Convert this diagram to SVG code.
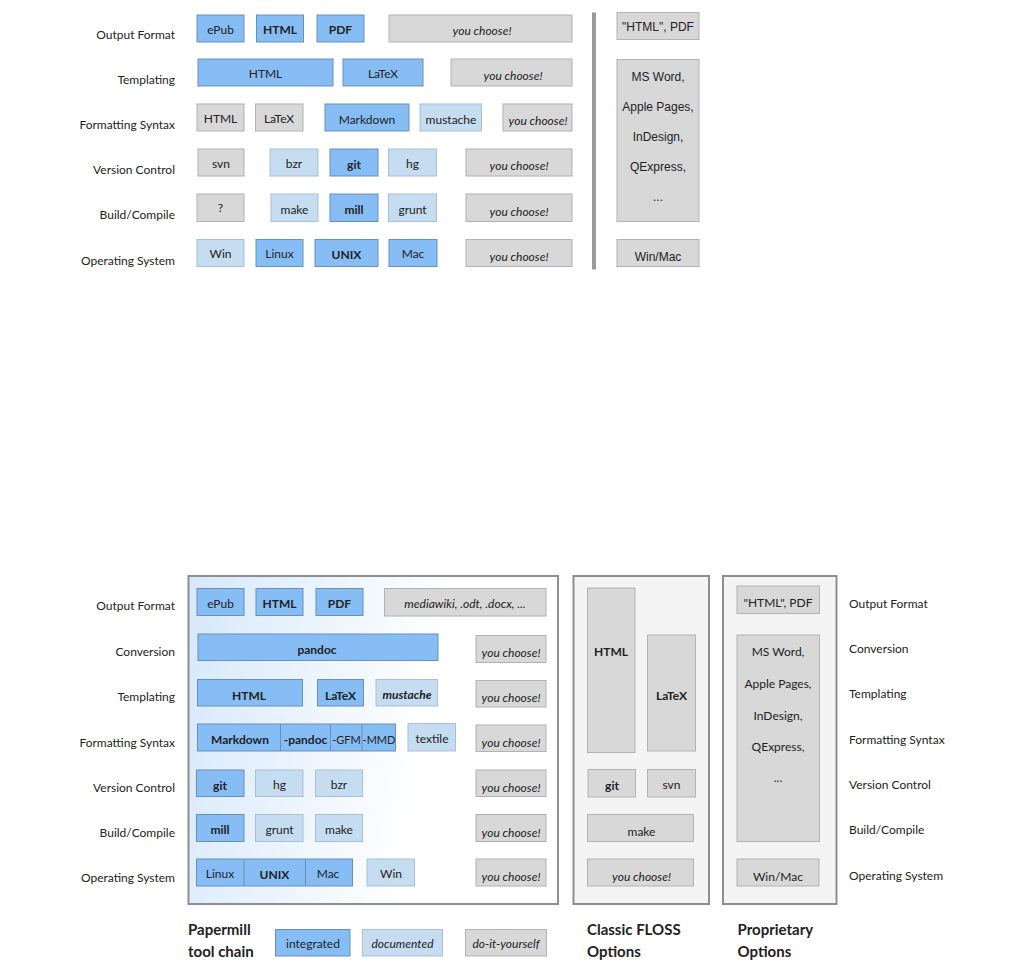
<svg xmlns="http://www.w3.org/2000/svg" width="1024" height="970" viewBox="0 0 1024 970">
<defs>
<linearGradient id="pmgrad" x1="0" y1="0" x2="1" y2="0.15">
<stop offset="0" stop-color="#d6e8fb"/>
<stop offset="0.7" stop-color="#ffffff"/>
<stop offset="1" stop-color="#ffffff"/>
</linearGradient>
<style>
text{font-family:Lato,"Source Sans Pro","Noto Sans",sans-serif;fill:#222;}
.b{fill:#86bdf5;stroke:#6b8fb8;stroke-width:1;}
.lb{fill:#c6dcf1;stroke:#a9bfd5;stroke-width:1;}
.g{fill:#d8d8d8;stroke:#b2b2b2;stroke-width:1;}
.t{font-size:12px;text-anchor:middle;}
.ts{font-size:11px;text-anchor:middle;}
.tb{font-size:12px;text-anchor:middle;font-weight:bold;}
.ti{font-size:12px;text-anchor:middle;font-style:italic;}
.tbi{font-size:12px;text-anchor:middle;font-style:italic;font-weight:bold;}
.lbl{font-size:12px;text-anchor:end;}
.lbr{font-size:12px;text-anchor:start;}
.hv{font-family:"Liberation Sans",Arial,sans-serif;font-size:12px;text-anchor:middle;}
.head{font-size:15px;font-weight:bold;}
.cont{stroke:#8e8e8e;stroke-width:2;}
.div{stroke:#6b8fb8;stroke-width:1;}
</style>
</defs>

<!-- ================= TOP DIAGRAM ================= -->
<g id="top-labels">
<text class="lbl" x="175" y="39">Output Format</text>
<text class="lbl" x="175" y="84">Templating</text>
<text class="lbl" x="175" y="129">Formatting Syntax</text>
<text class="lbl" x="175" y="174">Version Control</text>
<text class="lbl" x="175" y="219">Build/Compile</text>
<text class="lbl" x="175" y="265">Operating System</text>
</g>

<g id="top-output">
<rect class="b" x="197" y="15" width="47" height="27"/><text class="t" x="220.5" y="34">ePub</text>
<rect class="b" x="256.5" y="15" width="47" height="27"/><text class="tb" x="280" y="34">HTML</text>
<rect class="b" x="317" y="15" width="47" height="27"/><text class="tb" x="340.5" y="34">PDF</text>
<rect class="g" x="389" y="15" width="183" height="27"/><text class="ti" x="482" y="35">you choose!</text>
</g>

<g id="top-templating">
<rect class="b" x="198" y="59" width="135" height="27"/><text class="t" x="265.5" y="78">HTML</text>
<rect class="b" x="343" y="59" width="80" height="27"/><text class="t" x="383" y="78">LaTeX</text>
<rect class="g" x="451" y="59" width="121" height="27"/><text class="ti" x="513" y="80">you choose!</text>
</g>

<g id="top-syntax">
<rect class="g" x="197" y="104" width="47" height="27"/><text class="t" x="220.5" y="123">HTML</text>
<rect class="g" x="255.5" y="104" width="47.5" height="27"/><text class="t" x="279" y="123">LaTeX</text>
<rect class="b" x="325" y="104" width="84" height="27"/><text class="t" x="367" y="124">Markdown</text>
<rect class="lb" x="420" y="104" width="61.5" height="27"/><text class="t" x="451" y="124">mustache</text>
<rect class="g" x="503" y="104" width="69" height="27"/><text class="ti" x="538" y="125">you choose!</text>
</g>

<g id="top-vc">
<rect class="g" x="198" y="149" width="46" height="27"/><text class="t" x="221" y="168">svn</text>
<rect class="lb" x="270" y="149" width="48" height="27"/><text class="t" x="294" y="168">bzr</text>
<rect class="b" x="330" y="149" width="48" height="27"/><text class="tb" x="354" y="169">git</text>
<rect class="lb" x="388.5" y="149" width="48" height="27"/><text class="t" x="412.5" y="168">hg</text>
<rect class="g" x="466" y="149" width="106" height="27"/><text class="ti" x="519" y="170">you choose!</text>
</g>

<g id="top-build">
<rect class="g" x="197" y="194" width="47" height="27.5"/><text class="t" x="220.5" y="212">?</text>
<rect class="lb" x="271" y="194" width="47" height="27.5"/><text class="t" x="294.5" y="214">make</text>
<rect class="b" x="330" y="194" width="48" height="27.5"/><text class="tb" x="354" y="214">mill</text>
<rect class="lb" x="388.5" y="194" width="48" height="27.5"/><text class="t" x="412.5" y="214">grunt</text>
<rect class="g" x="466" y="194" width="106" height="27.5"/><text class="ti" x="519" y="216">you choose!</text>
</g>

<g id="top-os">
<rect class="lb" x="197" y="239.5" width="47" height="27"/><text class="t" x="220.5" y="258">Win</text>
<rect class="b" x="256" y="239.5" width="47" height="27"/><text class="t" x="279.5" y="258">Linux</text>
<rect class="b" x="315" y="239.5" width="63" height="27"/><text class="tb" x="346.5" y="259">UNIX</text>
<rect class="b" x="389" y="239.5" width="48" height="27"/><text class="t" x="413" y="258">Mac</text>
<rect class="g" x="466" y="239.5" width="106" height="27"/><text class="ti" x="519" y="261">you choose!</text>
</g>

<g id="top-separator">
<rect x="592" y="12.5" width="4" height="257" fill="#9a9a9a"/>
</g>

<g id="top-proprietary">
<rect class="g" x="617" y="12.5" width="82" height="27"/><text class="hv" x="658" y="31">"HTML", PDF</text>
<rect class="g" x="617" y="59.5" width="82" height="162"/>
<text class="hv" x="658" y="81">MS Word,</text>
<text class="hv" x="658" y="111">Apple Pages,</text>
<text class="hv" x="658" y="141">InDesign,</text>
<text class="hv" x="658" y="171">QExpress,</text>
<text class="hv" x="658" y="201">...</text>
<rect class="g" x="617" y="239.5" width="82" height="27"/><text class="hv" x="658" y="261">Win/Mac</text>
</g>

<!-- ================= BOTTOM DIAGRAM ================= -->
<g id="bottom-containers">
<rect class="cont" x="188.5" y="576" width="369.5" height="328" fill="url(#pmgrad)"/>
<rect class="cont" x="573.5" y="576" width="135.5" height="328" fill="#f4f4f4"/>
<rect class="cont" x="723" y="576" width="113.5" height="328" fill="#f4f4f4"/>
</g>

<g id="bottom-labels-left">
<text class="lbl" x="175" y="610">Output Format</text>
<text class="lbl" x="175" y="656">Conversion</text>
<text class="lbl" x="175" y="701">Templating</text>
<text class="lbl" x="175" y="747">Formatting Syntax</text>
<text class="lbl" x="175" y="792">Version Control</text>
<text class="lbl" x="175" y="837">Build/Compile</text>
<text class="lbl" x="175" y="882">Operating System</text>
</g>

<g id="bottom-labels-right">
<text class="lbr" x="849" y="608">Output Format</text>
<text class="lbr" x="849" y="653">Conversion</text>
<text class="lbr" x="849" y="698">Templating</text>
<text class="lbr" x="849" y="744">Formatting Syntax</text>
<text class="lbr" x="849" y="789">Version Control</text>
<text class="lbr" x="849" y="834">Build/Compile</text>
<text class="lbr" x="849" y="880">Operating System</text>
</g>

<g id="pm-output">
<rect class="b" x="197" y="588.5" width="47" height="27"/><text class="t" x="220.5" y="608">ePub</text>
<rect class="b" x="256" y="588.5" width="47" height="27"/><text class="tb" x="279.5" y="608">HTML</text>
<rect class="b" x="316" y="588.5" width="47" height="27"/><text class="tb" x="339.5" y="608">PDF</text>
<rect class="g" x="384.5" y="588.5" width="161.5" height="27.5"/><text class="ti" x="465" y="608">mediawiki, .odt, .docx, ...</text>
</g>

<g id="pm-conversion">
<rect class="b" x="198" y="634" width="240" height="26.5"/><text class="tb" x="317" y="654">pandoc</text>
<rect class="g" x="476" y="635.5" width="70" height="27"/><text class="ti" x="511" y="657">you choose!</text>
</g>

<g id="pm-templating">
<rect class="b" x="197.5" y="679.5" width="105" height="26.5"/><text class="tb" x="249" y="700">HTML</text>
<rect class="b" x="317.5" y="679.5" width="46" height="26.5"/><text class="tb" x="340.5" y="700">LaTeX</text>
<rect class="lb" x="376" y="679.5" width="61.5" height="26.5"/><text class="tbi" x="407" y="699">mustache</text>
<rect class="g" x="476" y="680.5" width="70" height="26.5"/><text class="ti" x="511" y="702">you choose!</text>
</g>

<g id="pm-syntax">
<rect class="b" x="197.5" y="724" width="198" height="27"/>
<line class="div" x1="280.5" y1="724" x2="280.5" y2="751"/>
<line class="div" x1="330.5" y1="724" x2="330.5" y2="751"/>
<line class="div" x1="362" y1="724" x2="362" y2="751"/>
<text class="tb" x="240" y="744">Markdown</text>
<text class="tb" x="305.5" y="744">-pandoc</text>
<text class="ts" x="346.5" y="744">-GFM</text>
<text class="ts" x="379" y="744">-MMD</text>
<rect class="lb" x="408" y="723.5" width="47.5" height="27.5"/><text class="t" x="432" y="743">textile</text>
<rect class="g" x="476" y="725" width="70" height="26.5"/><text class="ti" x="511" y="747">you choose!</text>
</g>

<g id="pm-vc">
<rect class="b" x="196.5" y="770" width="47.5" height="26.5"/><text class="tb" x="220" y="790">git</text>
<rect class="lb" x="255.5" y="770" width="47.5" height="26.5"/><text class="t" x="279.5" y="789">hg</text>
<rect class="lb" x="315.5" y="770" width="47" height="26.5"/><text class="t" x="339" y="789">bzr</text>
<rect class="g" x="476" y="770" width="70" height="26.5"/><text class="ti" x="511" y="792">you choose!</text>
</g>

<g id="pm-build">
<rect class="b" x="196.5" y="814.5" width="47.5" height="27"/><text class="tb" x="220" y="834">mill</text>
<rect class="lb" x="255.5" y="814.5" width="47.5" height="27"/><text class="t" x="279.5" y="834">grunt</text>
<rect class="lb" x="315.5" y="814.5" width="47" height="27"/><text class="t" x="339" y="834">make</text>
<rect class="g" x="476" y="814.5" width="70" height="27"/><text class="ti" x="511" y="837">you choose!</text>
</g>

<g id="pm-os">
<rect class="b" x="196.5" y="859" width="156" height="27"/>
<line class="div" x1="244" y1="859" x2="244" y2="886"/>
<line class="div" x1="305.5" y1="859" x2="305.5" y2="886"/>
<text class="t" x="220" y="878">Linux</text>
<text class="tb" x="274.5" y="879">UNIX</text>
<text class="t" x="328" y="878">Mac</text>
<rect class="lb" x="367" y="859" width="47.5" height="27"/><text class="t" x="391" y="878">Win</text>
<rect class="g" x="476" y="859" width="70" height="27"/><text class="ti" x="511" y="881">you choose!</text>
</g>

<g id="floss">
<rect class="g" x="587.5" y="588" width="47.5" height="164.5"/><text class="tb" x="611" y="656">HTML</text>
<rect class="g" x="647.5" y="635" width="48" height="116"/><text class="tb" x="671.5" y="700">LaTeX</text>
<rect class="g" x="588" y="769.5" width="47.5" height="27.5"/><text class="tb" x="612" y="790">git</text>
<rect class="g" x="647.5" y="769.5" width="48" height="27.5"/><text class="t" x="671.5" y="789">svn</text>
<rect class="g" x="587.5" y="814.5" width="106" height="27"/><text class="t" x="641.5" y="836">make</text>
<rect class="g" x="587.5" y="859" width="106" height="27"/><text class="ti" x="641.5" y="881">you choose!</text>
</g>

<g id="proprietary">
<rect class="g" x="737" y="586" width="82.5" height="27.5"/><text class="t" x="778" y="607">"HTML", PDF</text>
<rect class="g" x="737" y="635" width="82.5" height="206.5"/>
<text class="t" x="778" y="656">MS Word,</text>
<text class="t" x="778" y="688">Apple Pages,</text>
<text class="t" x="778" y="720">InDesign,</text>
<text class="t" x="778" y="751">QExpress,</text>
<text class="t" x="778" y="782">...</text>
<rect class="g" x="737" y="859" width="82" height="27"/><text class="t" x="778" y="881">Win/Mac</text>
</g>

<g id="legend">
<text class="head" x="188" y="935">Papermill</text>
<text class="head" x="188" y="957">tool chain</text>
<rect class="b" x="275.5" y="929.5" width="74.5" height="26.5"/><text class="t" x="313" y="948">integrated</text>
<rect class="lb" x="362.5" y="929.5" width="80" height="26.5"/><text class="ti" x="402.5" y="948">documented</text>
<rect class="g" x="465.5" y="929.5" width="81" height="26.5"/><text class="ti" x="506" y="948">do-it-yourself</text>
<text class="head" x="587" y="935">Classic FLOSS</text>
<text class="head" x="587" y="957">Options</text>
<text class="head" x="737.5" y="935">Proprietary</text>
<text class="head" x="737.5" y="957">Options</text>
</g>
</svg>
